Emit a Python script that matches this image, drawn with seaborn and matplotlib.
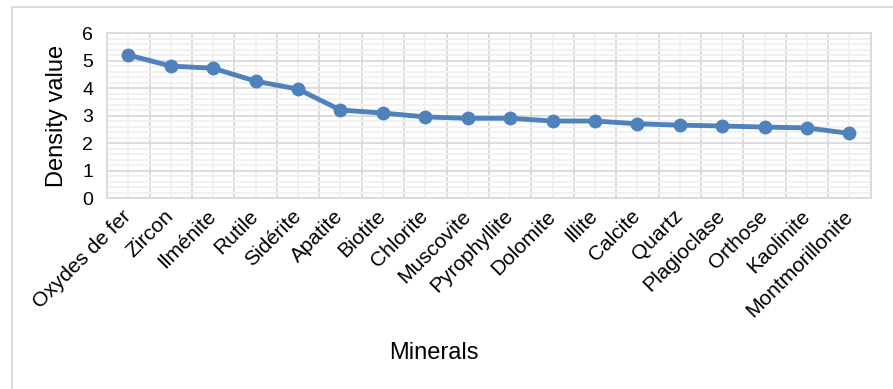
import matplotlib
matplotlib.use("Agg")
import matplotlib.pyplot as plt
from matplotlib.patches import Rectangle
from matplotlib.ticker import FixedLocator, MultipleLocator
import seaborn as sns
import pandas as pd

minerals = ["Oxydes de fer", "Zircon", "Ilménite", "Rutile", "Sidérite", "Apatite",
            "Biotite", "Chlorite", "Muscovite", "Pyrophyllite", "Dolomite", "Illite",
            "Calcite", "Quartz", "Plagioclase", "Orthose", "Kaolinite", "Montmorillonite"]
density = [5.2, 4.8, 4.72, 4.25, 3.96, 3.2, 3.09, 2.95, 2.9, 2.9, 2.8, 2.8,
           2.7, 2.65, 2.62, 2.58, 2.55, 2.35]

sns.set_theme(style="white")
plt.rcParams["font.family"] = ["Liberation Sans", "DejaVu Sans"]

df = pd.DataFrame({"Minerals": minerals, "Density value": density})

fig = plt.figure(figsize=(8.93, 3.89), dpi=100)
ax = fig.add_axes([0.120, 0.491, 0.855, 0.424])

line_color = "#4f81bd"
sns.lineplot(data=df, x="Minerals", y="Density value", ax=ax, color=line_color,
             linewidth=3.5, marker="o", markersize=10, markeredgewidth=0,
             sort=False)

n = len(minerals)
ax.set_xlim(-0.5, n - 0.5)
ax.set_ylim(0, 6)

# category ticks at centres, boundaries as minor ticks
ax.xaxis.set_major_locator(FixedLocator(range(n)))
ax.set_xticklabels(minerals, rotation=45, ha="right", va="center",
                   rotation_mode="anchor", fontsize=15, color="black")
ax.xaxis.set_minor_locator(FixedLocator([i - 0.5 for i in range(n + 1)]))
ax.yaxis.set_major_locator(MultipleLocator(1))
ax.yaxis.set_minor_locator(MultipleLocator(0.2))
ax.tick_params(axis="y", labelsize=14, colors="black", length=0, pad=10, which="both")
ax.tick_params(axis="x", length=0, pad=11, which="both")

# gridlines: darker at integers and category boundaries, lighter in between
ax.grid(False)
ax.yaxis.grid(True, which="major", color="#d9d9d9", linewidth=1.3, zorder=0)
ax.yaxis.grid(True, which="minor", color="#f0f0f0", linewidth=1.3, zorder=0)
ax.xaxis.grid(True, which="minor", color="#d9d9d9", linewidth=1.3, zorder=0)
ax.xaxis.grid(True, which="major", color="#f0f0f0", linewidth=1.3, zorder=0)
ax.set_axisbelow(True)

for s in ax.spines.values():
    s.set_color("#d9d9d9")
    s.set_linewidth(1.3)

ax.set_ylabel("Density value", fontsize=17, color="black", labelpad=10)
ax.set_xlabel("Minerals", fontsize=17, color="black")
ax.xaxis.set_label_coords(0.428, -0.94)
ax.xaxis.label.set_va("center")

# chart area outline
fig.patches.append(Rectangle((12 / 893, -0.2), 1.2, 1.2 - 7 / 389,
                             transform=fig.transFigure, fill=False,
                             edgecolor="#d9d9d9", linewidth=1.3))

fig.savefig("out.png", dpi=100)
